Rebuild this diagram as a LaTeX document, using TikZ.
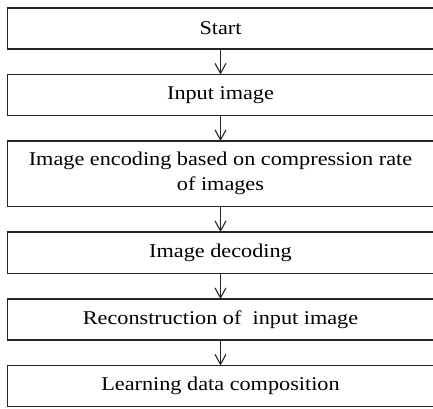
\documentclass[tikz,border=0pt]{standalone}
\usepackage{fontspec}
\setmainfont[FakeStretch=1.14]{Liberation Serif}
\usepackage{tikz}
\usetikzlibrary{positioning}
\usetikzlibrary{arrows.meta}
\tikzstyle{stepbox}=[draw=black!85,line width=1.4pt,rectangle,minimum width=426pt,minimum height=41pt,inner sep=0pt,outer sep=0pt,align=center,font=\fontsize{19.5}{25}\selectfont]
\tikzstyle{flow}=[line width=1.1pt,draw=black!85,-{Straight Barb[length=10pt,width=11pt,line width=1.1pt]}]

\begin{document}
\begin{tikzpicture}[x=1pt,y=1pt,node distance=25.5pt]
      \useasboundingbox (0,0) rectangle (433,-408);
      \node[stepbox] at (220.5,-28.5) (start) {Start};
      \node[stepbox,below=of start] (input) {Input image};
      \node[stepbox,below=of input,minimum height=65.5pt] (encode) {Image encoding based on compression rate\\of images};
      \node[stepbox,below=of encode,minimum height=41.5pt] (decode) {Image decoding};
      \node[stepbox,below=of decode] (recon) {Reconstruction of~ input image};
      \node[stepbox,below=of recon] (learn) {Learning data composition};
      \draw[flow] (start) -- (input);
      \draw[flow] (input) -- (encode);
      \draw[flow] (encode) -- (decode);
      \draw[flow] (decode) -- (recon);
      \draw[flow] (recon) -- (learn);
    \end{tikzpicture}
\end{document}
